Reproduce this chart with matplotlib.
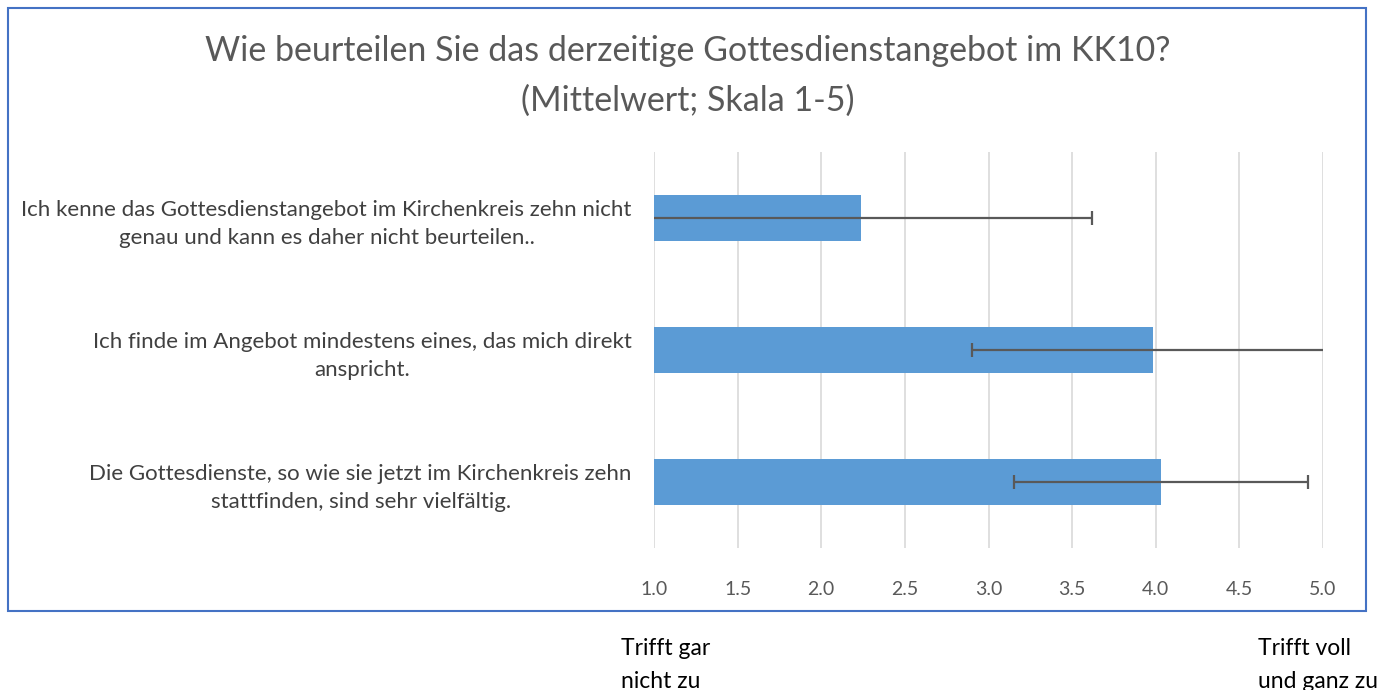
import matplotlib
matplotlib.use("Agg")
import matplotlib.pyplot as plt
from matplotlib.patches import Rectangle

plt.rcParams['font.family'] = ['Lato', 'DejaVu Sans']

categories = [
    "Ich kenne das Gottesdienstangebot im Kirchenkreis zehn nicht\ngenau und kann es daher nicht beurteilen..",
    "Ich finde im Angebot mindestens eines, das mich direkt\nanspricht.",
    "Die Gottesdienste, so wie sie jetzt im Kirchenkreis zehn\nstattfinden, sind sehr vielfältig.",
]
means = [2.235, 3.985, 4.03]
errors = [1.385, 1.085, 0.88]
xticks = [1.0, 1.5, 2.0, 2.5, 3.0, 3.5, 4.0, 4.5, 5.0]
title = "Wie beurteilen Sie das derzeitige Gottesdienstangebot im KK10?\n(Mittelwert; Skala 1-5)"
low_label = "Trifft gar\nnicht zu"
high_label = "Trifft voll\nund ganz zu"

W, H = 1393, 690
fig = plt.figure(figsize=(W / 100, H / 100), dpi=100)

# outer chart frame
fig.patches.append(Rectangle((8 / W, 1 - 611 / H), (1366 - 8) / W, (611 - 8) / H,
                             transform=fig.transFigure, fill=False,
                             edgecolor='#4472c4', linewidth=1.5))

ax = fig.add_axes([654 / W, 1 - 548 / H, (1323 - 654) / W, (548 - 152) / H])
ypos = list(range(len(categories)))
ax.barh(ypos, [m - 1.0 for m in means], left=1.0, height=0.35, color='#5b9bd5', zorder=2)
ax.errorbar(means, ypos, xerr=errors, fmt='none', ecolor='#595959', elinewidth=1.6,
            capsize=5, capthick=1.6, zorder=3)
ax.set_xlim(1.0, 5.0)
ax.set_ylim(2.5, -0.5)
ax.set_xticks(xticks)
ax.set_xticklabels([f"{t:.1f}" for t in xticks], fontsize=14, color='#595959')
ax.set_yticks(ypos)
ax.set_yticklabels(categories, fontsize=16, color='#404040', multialignment='center',
                   linespacing=1.5)
ax.tick_params(axis='x', length=0, pad=24)
ax.tick_params(axis='y', length=0, pad=16)
ax.grid(axis='x', color='#d9d9d9', linewidth=1.2, zorder=0)
ax.set_axisbelow(True)
for s in ax.spines.values():
    s.set_visible(False)

fig.text(688 / W, 1 - 76 / H, title, ha='center', va='center', fontsize=24.5,
         color='#595959', linespacing=1.7)
fig.text(621 / W, 1 - 665 / H, low_label, ha='left', va='center', fontsize=16.5,
         color='#000000', linespacing=1.75)
fig.text(1258 / W, 1 - 665 / H, high_label, ha='left', va='center', fontsize=16.5,
         color='#000000', linespacing=1.75)

fig.savefig("out.png", dpi=100)
